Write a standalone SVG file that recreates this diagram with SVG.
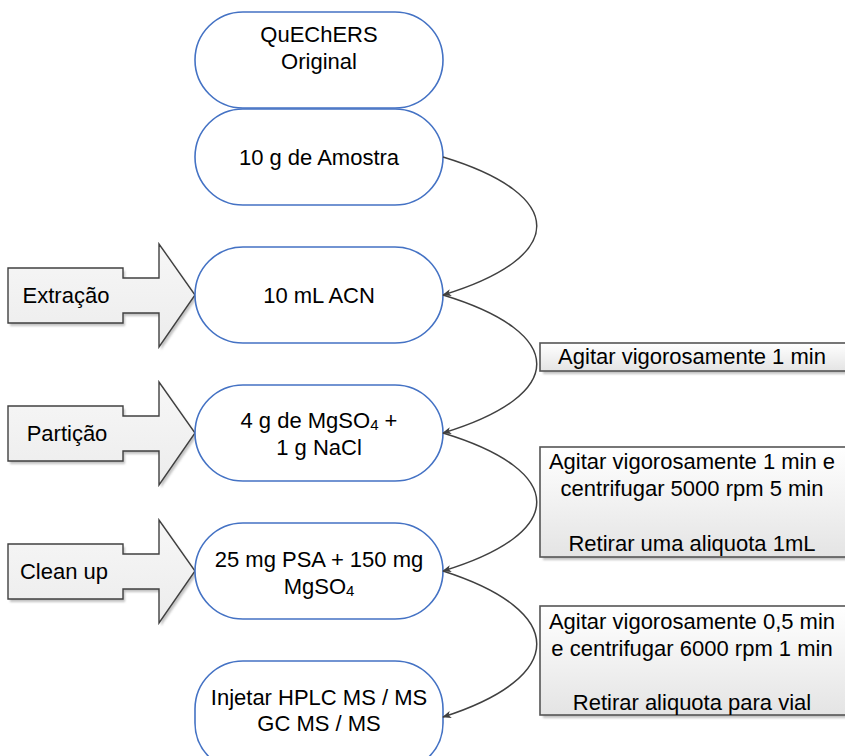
<svg xmlns="http://www.w3.org/2000/svg" width="845" height="756" viewBox="0 0 845 756">
  <defs>
    <linearGradient id="greyFill" x1="0" y1="0" x2="0" y2="1">
      <stop offset="0" stop-color="#ffffff"/>
      <stop offset="1" stop-color="#e4e4e4"/>
    </linearGradient>
    <linearGradient id="arrowFill" x1="0" y1="0" x2="0" y2="1">
      <stop offset="0" stop-color="#f7f7f7"/>
      <stop offset="1" stop-color="#ececec"/>
    </linearGradient>
    <filter id="soft" x="-10%" y="-10%" width="130%" height="130%">
      <feGaussianBlur stdDeviation="1.2"/>
    </filter>
    <marker id="head" viewBox="0 0 10 10" refX="9" refY="5" markerWidth="9" markerHeight="9" markerUnits="userSpaceOnUse" orient="auto">
      <path d="M0,1 L10,5 L0,9 L2.5,5 Z" fill="#404040"/>
    </marker>
    <!-- block arrow pointing right, tip at (0,0) -->
    <path id="callout" d="M-187,-27 L-72,-27 L-72,-17 L-36,-17 L-36,-51 L0,0 L-36,52 L-36,18 L-72,18 L-72,28 L-187,28 Z"/>
  </defs>
  <style>
    .node { fill: #ffffff; stroke: #4472c4; stroke-width: 1.6; }
    .txt { font-family: "Liberation Sans", Arial, sans-serif; font-size: 22px; fill: #000000; text-anchor: middle; }
    .sub { font-size: 15px; }
    .box { fill: url(#greyFill); stroke: #555555; stroke-width: 1.6; }
    .shadow { fill: #9a9a9a; opacity: 0.6; filter: url(#soft); }
    .arrow { fill: url(#arrowFill); stroke: #404040; stroke-width: 1.4; stroke-linejoin: miter; }
    .link { fill: none; stroke: #404040; stroke-width: 1.5; marker-end: url(#head); }
  </style>

  <rect width="845" height="756" fill="#ffffff"/>

  <!-- stage arrows on the left -->
  <g id="stage-extracao">
    <use href="#callout" class="shadow" transform="translate(197,298)"/>
    <use href="#callout" class="arrow" transform="translate(195,295)"/>
    <text class="txt" x="66" y="303">Extração</text>
  </g>
  <g id="stage-particao">
    <use href="#callout" class="shadow" transform="translate(197,436)"/>
    <use href="#callout" class="arrow" transform="translate(195,433)"/>
    <text class="txt" x="67" y="441">Partição</text>
  </g>
  <g id="stage-cleanup">
    <use href="#callout" class="shadow" transform="translate(197,574)"/>
    <use href="#callout" class="arrow" transform="translate(195,571)"/>
    <text class="txt" x="64" y="579">Clean up</text>
  </g>

  <!-- process steps -->
  <g id="step-quechers">
    <rect class="node" x="195" y="12" width="248" height="96" rx="48" ry="48"/>
    <text class="txt" x="319" y="42">QuEChERS</text>
    <text class="txt" x="319" y="69">Original</text>
  </g>
  <g id="step-amostra">
    <rect class="node" x="195" y="109" width="248" height="96" rx="48" ry="48"/>
    <text class="txt" x="319" y="165">10 g de Amostra</text>
  </g>
  <g id="step-acn">
    <rect class="node" x="195" y="247" width="248" height="96" rx="48" ry="48"/>
    <text class="txt" x="319" y="303">10 mL ACN</text>
  </g>
  <g id="step-sais">
    <rect class="node" x="195" y="385" width="248" height="96" rx="48" ry="48"/>
    <text class="txt" x="319" y="428">4 g de MgSO<tspan class="sub" dy="2">4</tspan><tspan dy="-2"> +</tspan></text>
    <text class="txt" x="319" y="455">1 g NaCl</text>
  </g>
  <g id="step-psa">
    <rect class="node" x="195" y="523" width="248" height="96" rx="48" ry="48"/>
    <text class="txt" x="319" y="567">25 mg PSA + 150 mg</text>
    <text class="txt" x="319" y="594">MgSO<tspan class="sub" dy="2">4</tspan></text>
  </g>
  <g id="step-injetar">
    <rect class="node" x="195" y="661" width="248" height="110" rx="48" ry="48"/>
    <text class="txt" x="319" y="705">Injetar HPLC MS / MS</text>
    <text class="txt" x="319" y="731">GC MS / MS</text>
  </g>

  <!-- condition notes -->
  <g id="note-agitar">
    <rect class="shadow" x="543" y="346" width="310" height="28"/>
    <rect class="box" x="540" y="343" width="310" height="28"/>
    <text class="txt" x="692" y="364">Agitar vigorosamente 1 min</text>
  </g>
  <g id="note-centrifugar-5000">
    <rect class="shadow" x="543" y="450" width="310" height="110"/>
    <rect class="box" x="540" y="447" width="310" height="110"/>
    <text class="txt" x="692" y="469">Agitar vigorosamente 1 min e</text>
    <text class="txt" x="692" y="496">centrifugar 5000 rpm 5 min</text>
    <text class="txt" x="692" y="551">Retirar uma aliquota 1mL</text>
  </g>
  <g id="note-centrifugar-6000">
    <rect class="shadow" x="543" y="609" width="310" height="109"/>
    <rect class="box" x="540" y="606" width="310" height="109"/>
    <text class="txt" x="692" y="629">Agitar vigorosamente 0,5 min</text>
    <text class="txt" x="692" y="656">e centrifugar 6000 rpm 1 min</text>
    <text class="txt" x="692" y="710">Retirar aliquota para vial</text>
  </g>

  <!-- flow connectors -->
  <g id="connectors">
    <path class="link" d="M443,157 C568,195 568,257 443,295"/>
    <path class="link" d="M443,295 C568,333 568,395 443,433"/>
    <path class="link" d="M443,433 C568,471 568,533 443,571"/>
    <path class="link" d="M443,571 C568,611 568,677 443,717"/>
  </g>
</svg>
